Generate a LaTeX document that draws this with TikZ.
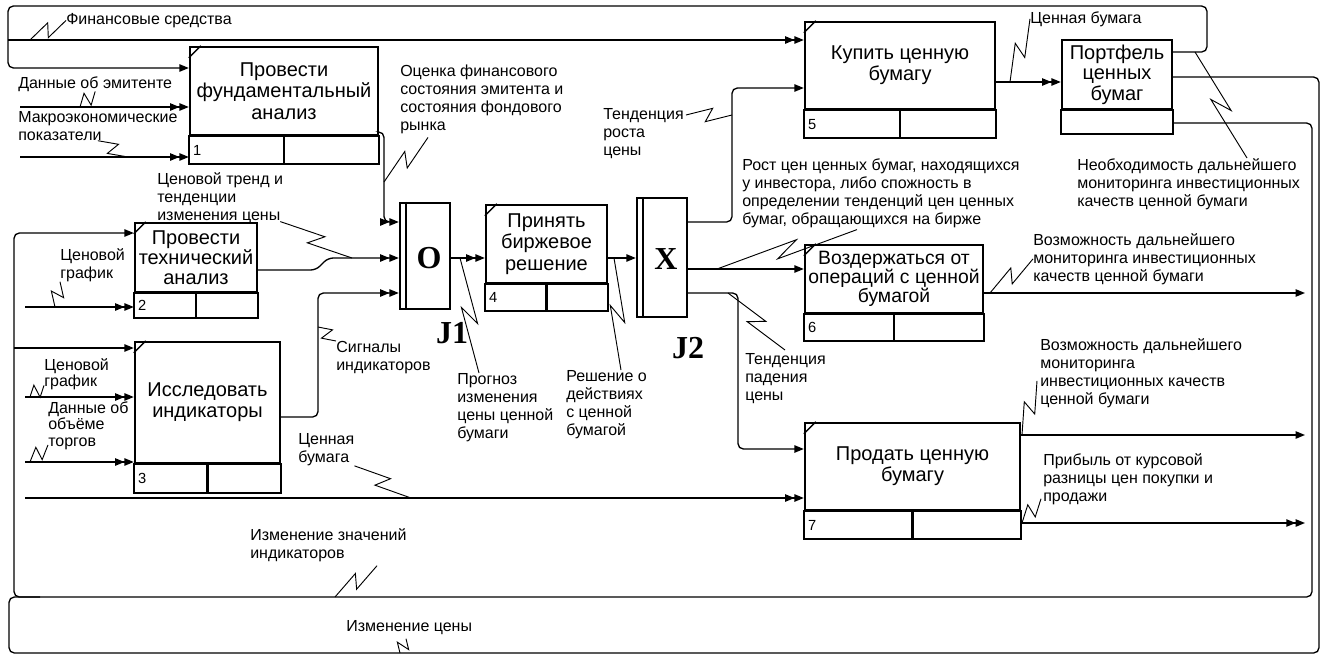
\documentclass[tikz,border=0pt]{standalone}
\usepackage{fontspec}
\setmainfont{Liberation Sans}
\newfontfamily\jfont{Liberation Serif}
\usetikzlibrary{positioning,arrows.meta,calc}

\tikzset{
  act/.style={draw,line width=1.8pt,inner sep=0pt,align=center,font=\fontsize{15}{16}\selectfont},
  jct/.style={draw,line width=1.8pt,inner sep=0pt},
  num/.style={anchor=west,inner sep=0pt,font=\fontsize{11}{11}\selectfont},
  lbl/.style={anchor=north west,inner sep=0pt,align=left,font=\fontsize{12}{13.5}\selectfont},
  jlbl/.style={inner sep=0pt,font=\jfont\bfseries\fontsize{24}{24}\selectfont},
  conn/.style={line width=1pt,rounded corners=4pt},
  one/.style={conn,-{Triangle[length=7pt,width=5.5pt]}},
  two/.style={conn,-{Triangle[length=7pt,width=5.5pt]Triangle[length=7pt,width=5.5pt]}},
  squig/.style={line width=.7pt,to path={-- ($(\tikztostart)!.58!(\tikztotarget)!5pt!90:(\tikztotarget)$) -- ($(\tikztostart)!.42!(\tikztotarget)!5pt!-90:(\tikztotarget)$) -- (\tikztotarget)}}
}

\begin{document}
\begin{tikzpicture}[x=0.75pt,y=-0.75pt]
  \useasboundingbox (0,0) rectangle (1325,657);
  % units of action
  \node[act,minimum width=141pt,minimum height=66pt] (b1) at (284,91) {Провести\\фундаментальный\\анализ};
  \node[act,minimum width=91.5pt,minimum height=51.75pt,font=\fontsize{15}{15}\selectfont] (b2) at (196,257.5) {Провести\\технический\\анализ};
  \node[act,minimum width=108.75pt,minimum height=90.75pt] (b3) at (207.5,402.5) {Исследовать\\индикаторы};
  \node[act,minimum width=90.75pt,minimum height=58.5pt] (b4) at (546.5,244) {Принять\\биржевое\\решение};
  \node[act,minimum width=142.5pt,minimum height=65.25pt] (b5) at (900,65.5) {Купить ценную\\бумагу};
  \node[act,minimum width=82.5pt,minimum height=51.75pt,font=\fontsize{15}{15.5}\selectfont] (bp) at (1117,74.5) {Портфель\\ценных\\бумаг};
  \node[act,minimum width=133.5pt,minimum height=51pt,font=\fontsize{14.5}{14.5}\selectfont] (b6) at (894,279) {Воздержаться от\\операций с ценной\\бумагой};
  \node[act,minimum width=161.25pt,minimum height=65.25pt] (b7) at (912.5,466.5) {Продать ценную\\бумагу};
  \foreach \b/\h/\k in {b1/28/1,b2/25/2,b3/29/3,b4/27/4,b5/28/5,b6/27/6,b7/28/7}{
    \draw[line width=1.8pt] (\b.south west) rectangle ($(\b.south east)+(0,\h)$);
    \draw[line width=1.8pt] (\b.south) -- ($(\b.south)+(0,\h)$);
    \node[num] (n\k) at ($(\b.south west)+(4,\h/2)$) {\k};
    \draw[line width=1pt] ($(\b.north west)+(0,12)$) -- ($(\b.north west)+(12,0)$);
  }
  \draw[line width=1.8pt] (bp.south west) rectangle ($(bp.south east)+(0,24)$);

  % junctions
  \node[jct,minimum width=37.5pt,minimum height=79.5pt] (j1) at (425,256) {};
  \node[jct,minimum width=37.5pt,minimum height=89.25pt] (j2) at (662,257.5) {};
  \draw[line width=1.2pt] ($(j1.north west)+(7,0)$) -- ($(j1.south west)+(7,0)$);
  \draw[line width=1.2pt] ($(j2.north west)+(7,0)$) -- ($(j2.south west)+(7,0)$);
  \node[jlbl] (o1) at ($(j1.center)+(4,2)$) {O};
  \node[jlbl] (x2) at ($(j2.center)+(4,2)$) {X};
  \node[jlbl] (jl1) at (452,333) {J1};
  \node[jlbl] (jl2) at (688,348) {J2};

  % free ends
  \coordinate (fj) at (8,40);
  \coordinate (iemit) at (20,107);
  \coordinate (imacro) at (20,157);
  \coordinate (ig2) at (25,307);
  \coordinate (ig3) at (25,397);
  \coordinate (iv3) at (25,462);
  \coordinate (icb) at (25,498);
  \coordinate (bj) at (14,348);
  \coordinate (o6) at (1305,293);
  \coordinate (o7a) at (1305,435);
  \coordinate (o7b) at (1305,523);

  % arrows
  \draw[one] (bp.east |- 0,52) -- (1207,52) -- (1207,6) -- (8,6) -- (8,68) -- (b1.west |- 0,68);
  \draw[two] (fj) -- (fj -| b5.west);
  \draw[two] (iemit) -- (iemit -| b1.west);
  \draw[two] (imacro) -- (imacro -| b1.west);
  \draw[two] (b1.east |- 0,132) -- (384,132) -- (384,222) -- (j1.west |- 0,222);
  \draw[two] (b2.east |- 0,270) -- (316,270) -- (328,258) -- (j1.west |- 0,258);
  \draw[two] (b3.east |- 0,417) -- (318,417) -- (318,293) -- (j1.west |- 0,293);
  \draw[two] (ig2) -- (ig2 -| b2.west);
  \draw[two] (ig3) -- (ig3 -| b3.west);
  \draw[two] (iv3) -- (iv3 -| b3.west);
  \draw[two] (j1.east |- 0,258) -- (b4.west |- 0,258);
  \draw[one] (b4.east |- 0,258) -- (j2.west |- 0,258);
  \draw[one] (j2.east |- 0,222) -- (732,222) -- (732,88) -- (b5.west |- 0,88);
  \draw[one] (j2.east |- 0,269) -- (b6.west |- 0,269);
  \draw[one] (j2.east |- 0,293) -- (738,293) -- (738,449) -- (b7.west |- 0,449);
  \draw[two] (b5.east |- 0,82) -- (bp.west |- 0,82);
  \draw[one] (bp.east |- 0,123) -- (1312,123) -- (1312,597) -- (14,597) -- (14,233) -- (b2.west |- 0,233);
  \draw[one] (bj) -- (bj -| b3.west);
  \draw[conn] (bp.east |- 0,77) -- (1319,77) -- (1319,653) -- (9,653) -- (9,597) -- (40,597);
  \draw[one] (b6.east |- o6) -- (o6);
  \draw[one] (b7.east |- o7a) -- (o7a);
  \draw[two] (b7.east |- o7b) -- (o7b);
  \draw[two] (icb) -- (icb -| b7.west);

  % arrow labels
  \node[lbl] (lfin) at (66,13) {Финансовые средства};
  \node[lbl] (lemit) at (18,76) {Данные об эмитенте};
  \node[lbl] (lmacro) at (18,111) {Макроэкономические\\показатели};
  \node[lbl] (locen) at (400,65) {Оценка финансового\\состояния эмитента и\\состояния фондового\\рынка};
  \node[lbl] (ltrend) at (157,172) {Ценовой тренд и\\тенденции\\изменения цены};
  \node[lbl] (lgr2) at (60,248) {Ценовой\\график};
  \node[lbl,font=\fontsize{12}{12.5}\selectfont] (lgr3) at (44,358) {Ценовой\\график};
  \node[lbl,font=\fontsize{12}{12.5}\selectfont] (lvol) at (48,401) {Данные об\\объёме\\торгов};
  \node[lbl] (lsig) at (336,341) {Сигналы\\индикаторов};
  \node[lbl] (lprog) at (457,373) {Прогноз\\изменения\\цены ценной\\бумаги};
  \node[lbl] (lresh) at (566,370) {Решение о\\действиях\\с ценной\\бумагой};
  \node[lbl] (lrost) at (603,108) {Тенденция\\роста\\цены};
  \node[lbl] (lgrow) at (742,158) {Рост цен ценных бумаг, находящихся\\у инвестора, либо спожность в\\определении тенденций цен ценных\\бумаг, обращающихся на бирже};
  \node[lbl] (lfall) at (745,353) {Тенденция\\падения\\цены};
  \node[lbl] (lcb1) at (1030,11) {Ценная бумага};
  \node[lbl] (lneed) at (1077,158) {Необходимость дальнейшего\\мониторинга инвестиционных\\качеств ценной бумаги};
  \node[lbl] (lposs6) at (1033,233) {Возможность дальнейшего\\мониторинга инвестиционных\\качеств ценной бумаги};
  \node[lbl] (lposs7) at (1040,338) {Возможность дальнейшего\\мониторинга\\инвестиционных качеств\\ценной бумаги};
  \node[lbl] (lprof) at (1043,453) {Прибыль от курсовой\\разницы цен покупки и\\продажи};
  \node[lbl] (lcb2) at (298,433) {Ценная\\бумага};
  \node[lbl] (lind) at (250,528) {Изменение значений\\индикаторов};
  \node[lbl] (lprice) at (346,620) {Изменение цены};

  % squiggle ends
  \coordinate (sfin) at (30,40);
  \coordinate (semit) at (80,107);
  \coordinate (smacro) at (128,157);
  \coordinate (socen) at (384,182);
  \coordinate (strend) at (352,258);
  \coordinate (sgr2) at (55,307);
  \coordinate (sgr3) at (30,397);
  \coordinate (svol) at (30,462);
  \coordinate (ssig) at (318,327);
  \coordinate (sprog) at (460,258);
  \coordinate (sresh) at (614,258);
  \coordinate (srost) at (732,115);
  \coordinate (sgrow) at (717,269);
  \coordinate (sfall) at (728,293);
  \coordinate (scb1) at (1010,82);
  \coordinate (sneed) at (1195,52);
  \coordinate (sposs6) at (990,293);
  \coordinate (sposs7) at (1022,435);
  \coordinate (sprof) at (1022,523);
  \coordinate (scb2) at (411,498);
  \coordinate (sind) at (335,597);
  \coordinate (sprice) at (400,653);

  \draw[squig] (lfin.west) to (sfin);
  \draw[squig] (lemit.south) to (semit);
  \draw[squig] (lmacro.south) to (smacro);
  \draw[squig] ($(locen.south west)+(28,3)$) to (socen);
  \draw[squig] ($(ltrend.south east)+(-3,-2)$) to (strend);
  \draw[squig] (lgr2.south west) to (sgr2);
  \draw[squig] ($(lgr3.south west)+(0,-5)$) to (sgr3);
  \draw[squig] ($(lvol.south west)+(0,-5)$) to (svol);
  \draw[squig] (lsig.north west) to (ssig);
  \draw[squig] ($(lprog.north west)+(22,0)$) to (sprog);
  \draw[squig] ($(lresh.north west)+(55,0)$) to (sresh);
  \draw[squig] ($(lrost.north east)+(2,7)$) to (srost);
  \draw[squig] ($(lgrow.south west)+(115,2)$) to (sgrow);
  \draw[squig] ($(lfall.north west)+(40,-3)$) to (sfall);
  \draw[squig] (lcb1.west) to (scb1);
  \draw[squig] ($(lneed.north west)+(170,0)$) to (sneed);
  \draw[squig] (lposs6.west) to (sposs6);
  \draw[squig] ($(lposs7.west)+(-3,8)$) to (sposs7);
  \draw[squig] ($(lprof.south west)+(-2,-6)$) to (sprof);
  \draw[squig] (lcb2.south east) to (scb2);
  \draw[squig] ($(lind.south west)+(127,4)$) to (sind);
  \draw[squig] ($(lprice.south west)+(60,4)$) to (sprice);
\end{tikzpicture}
\end{document}
